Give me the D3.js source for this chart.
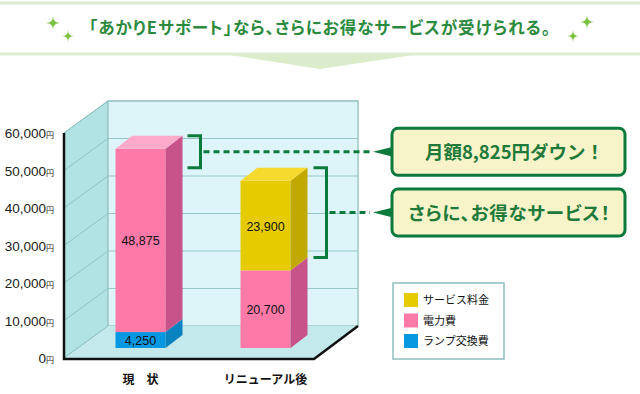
<!DOCTYPE html>
<html>
<head>
<meta charset="utf-8">
<script src="https://cdn.jsdelivr.net/npm/d3@7"></script>
<style>
  body { margin: 0; background: #fff; }
  svg { display: block; font-family: "Noto Sans CJK JP", sans-serif; }
</style>
</head>
<body>
<svg id="chart" width="640" height="394"></svg>
<script>
// data
const categories = ['現\u3000状', 'リニューアル後'];
const lampCost = [4250, 0];
const powerCost = [48875, 20700];
const serviceCost = [0, 23900];
const yTicks = [0, 10000, 20000, 30000, 40000, 50000, 60000];
const legendNames = ['サービス料金', '電力費', 'ランプ交換費'];
const titleText = '「あかりEサポート」なら、さらにお得なサービスが受けられる。';
const calloutTexts = ['月額8,825円ダウン！', 'さらに、お得なサービス！'];

const svg = d3.select('#chart');

// banner at the top
svg.append('path')
  .attr('d', 'M223,54 L420,54 L320,69 Z')
  .attr('fill', '#dbecca');
svg.append('line').attr('x1', 0).attr('x2', 640).attr('y1', 3).attr('y2', 3)
  .attr('stroke', '#dcedcf').attr('stroke-width', 3);
svg.append('line').attr('x1', 0).attr('x2', 640).attr('y1', 54).attr('y2', 54)
  .attr('stroke', '#dcedcf').attr('stroke-width', 3);
svg.append('text')
  .attr('x', 320).attr('y', 34)
  .attr('text-anchor', 'middle')
  .attr('fill', '#2b8a3e')
  .style('font-size', '16.5px')
  .style('font-weight', 'bold')
  .style('font-feature-settings', '"palt"')
  .style('letter-spacing', '1px')
  .text(titleText);

const sparkle = r => `M0,${-r} Q0,0 ${r},0 Q0,0 0,${r} Q0,0 ${-r},0 Q0,0 0,${-r} Z`;
[[53, 23, 7], [68, 36, 6], [573, 36, 6], [587, 22, 7]].forEach(([cx, cy, r]) => {
  svg.append('path')
    .attr('transform', `translate(${cx},${cy})`)
    .attr('d', sparkle(r))
    .attr('fill', '#7cc242');
});

// 3d frame
const left = 64, right = 314;
const D = { dx: 44, dy: -32 };         // depth of the box
const barOff = { dx: 14, dy: -10 };    // bar front position inside the box
const barDepth = { dx: 17, dy: -13 };  // depth of each bar

const y = d3.scaleLinear().domain([0, 60000]).range([358, 133]);
const x = d3.scaleBand().domain(categories).range([left, right])
  .paddingInner(0.6).paddingOuter(0.3);

const yTop = y(60000), yBase = y(0);

// side wall
svg.append('path')
  .attr('d', `M${left},${yTop} L${left + D.dx},${yTop + D.dy} L${left + D.dx},${yBase + D.dy} L${left},${yBase} Z`)
  .attr('fill', '#b2e3e4').attr('stroke', '#8fc2c2').attr('stroke-width', 1);
// back wall
svg.append('rect')
  .attr('x', left + D.dx).attr('y', yTop + D.dy)
  .attr('width', right - left).attr('height', yBase - yTop)
  .attr('fill', '#ddf4f8').attr('stroke', '#9cc8c8').attr('stroke-width', 1.5);
// floor
svg.append('path')
  .attr('d', `M${left},${yBase} L${right},${yBase} L${right + D.dx},${yBase + D.dy} L${left + D.dx},${yBase + D.dy} Z`)
  .attr('fill', '#c4e9ec');

// gridlines
yTicks.filter(v => v > 0).forEach(v => {
  svg.append('line')
    .attr('x1', left + D.dx).attr('x2', right + D.dx)
    .attr('y1', y(v) + D.dy).attr('y2', y(v) + D.dy)
    .attr('stroke', '#98c6c6').attr('stroke-width', 1.2);
  svg.append('line')
    .attr('x1', left).attr('x2', left + D.dx)
    .attr('y1', y(v)).attr('y2', y(v) + D.dy)
    .attr('stroke', '#8fc2c2').attr('stroke-width', 1);
});
svg.append('line')
  .attr('x1', left).attr('x2', left + D.dx)
  .attr('y1', yBase).attr('y2', yBase + D.dy)
  .attr('stroke', '#8fc2c2').attr('stroke-width', 1);

// front axis and floor edges
svg.append('path')
  .attr('d', `M${left},${yTop} L${left},${yBase + 1} L${right},${yBase + 1} L${right + D.dx},${yBase + D.dy}`)
  .attr('fill', 'none').attr('stroke', '#111').attr('stroke-width', 2.5);

// y tick labels
const fmt = d3.format(',');
yTicks.forEach(v => {
  const t = svg.append('text')
    .attr('x', 54).attr('y', y(v) + 5)
    .attr('text-anchor', 'end')
    .attr('fill', '#222')
    .style('font-family', '"Liberation Sans", "Noto Sans CJK JP", sans-serif')
    .style('font-size', '13.5px');
  t.append('tspan').text(fmt(v));
  t.append('tspan').style('font-size', '8px').style('font-family', '"Noto Sans CJK JP", sans-serif').text('円');
});

// stacked bars
const rows = categories.map((c, i) => ({ cat: c, lamp: lampCost[i], power: powerCost[i], service: serviceCost[i] }));
const keys = ['lamp', 'power', 'service'];
const colors = {
  lamp: { front: '#0798e2', side: '#0b82c0', top: '#3fb2ec' },
  power: { front: '#fd7aa8', side: '#c75388', top: '#fdaacb' },
  service: { front: '#e6cb00', side: '#c2a900', top: '#f7da2e' }
};
const stacked = d3.stack().keys(keys)(rows);
const w = x.bandwidth();

rows.forEach((r, i) => {
  const x0 = x(r.cat) + barOff.dx;
  const segs = stacked.map(s => ({ key: s.key, v0: s[i][0], v1: s[i][1] })).filter(s => s.v1 > s.v0);
  segs.forEach((s, j) => {
    const yt = y(s.v1) + barOff.dy, yb = y(s.v0) + barOff.dy;
    const c = colors[s.key];
    svg.append('rect')
      .attr('x', x0).attr('y', yt).attr('width', w).attr('height', yb - yt)
      .attr('fill', c.front);
    svg.append('path')
      .attr('d', `M${x0 + w},${yt} L${x0 + w + barDepth.dx},${yt + barDepth.dy} L${x0 + w + barDepth.dx},${yb + barDepth.dy} L${x0 + w},${yb} Z`)
      .attr('fill', c.side);
    if (j === segs.length - 1) {
      svg.append('path')
        .attr('d', `M${x0},${yt} L${x0 + barDepth.dx},${yt + barDepth.dy} L${x0 + w + barDepth.dx},${yt + barDepth.dy} L${x0 + w},${yt} Z`)
        .attr('fill', c.top);
    }
    svg.append('text')
      .attr('x', x0 + w / 2).attr('y', (yt + yb) / 2 + 5)
      .attr('text-anchor', 'middle')
      .attr('fill', '#111')
      .style('font-family', '"Liberation Sans", sans-serif')
      .style('font-size', '12.5px')
      .text(fmt(s.v1 - s.v0));
  });
  // category label
  svg.append('text')
    .attr('x', x0 + w / 2).attr('y', 384)
    .attr('text-anchor', 'middle')
    .attr('fill', '#111')
    .style('font-size', '12px')
    .style('font-weight', 'bold')
    .text(r.cat);
});

// callouts
const totals = rows.map(r => r.lamp + r.power + r.service);
const green = '#0b7a3c';
const backRight = i => x(categories[i]) + barOff.dx + w + barDepth.dx;
const brackets = [
  { x: backRight(0) + 5, y0: y(totals[0]) + barOff.dy + barDepth.dy, y1: y(totals[1]) + barOff.dy + barDepth.dy },
  { x: backRight(1) + 6, y0: y(totals[1]) + barOff.dy + barDepth.dy, y1: y(rows[1].power) + barOff.dy + barDepth.dy }
];
const boxX = 392, boxW = 233, boxH = 47;

brackets.forEach((b, i) => {
  const bw = 13, mid = (b.y0 + b.y1) / 2;
  svg.append('path')
    .attr('d', `M${b.x},${b.y0} L${b.x + bw},${b.y0} L${b.x + bw},${b.y1} L${b.x},${b.y1}`)
    .attr('fill', 'none').attr('stroke', green).attr('stroke-width', 3);
  svg.append('line')
    .attr('x1', b.x + bw + 3).attr('x2', boxX - 22)
    .attr('y1', mid).attr('y2', mid)
    .attr('stroke', green).attr('stroke-width', 3)
    .attr('stroke-dasharray', '6,4');
  svg.append('path')
    .attr('d', `M${boxX - 19},${mid} L${boxX + 1},${mid - 5} L${boxX + 1},${mid + 5} Z`)
    .attr('fill', green);
  svg.append('rect')
    .attr('x', boxX).attr('y', mid - boxH / 2)
    .attr('width', boxW).attr('height', boxH)
    .attr('rx', 6)
    .attr('fill', '#f6f4c8').attr('stroke', green).attr('stroke-width', 3);
  svg.append('text')
    .attr('x', i === 0 ? boxX + boxW / 2 + 6 : boxX + boxW / 2 + 1).attr('y', mid + 7)
    .attr('text-anchor', 'middle')
    .attr('fill', '#1f7a3a')
    .style('font-size', '18.5px')
    .style('font-weight', 'bold')
    .style('font-feature-settings', i === 1 ? '"palt"' : 'normal')
    .style('letter-spacing', i === 1 ? '0.8px' : '0px')
    .text(calloutTexts[i]);
});

// legend
const legend = svg.append('g');
legend.append('rect')
  .attr('x', 393).attr('y', 283).attr('width', 111).attr('height', 76)
  .attr('fill', '#fff').attr('stroke', '#8fbfbf').attr('stroke-width', 1.5);
const legendKeys = ['service', 'power', 'lamp'];
legendNames.forEach((name, i) => {
  const ly = 300 + i * 20.5;
  legend.append('rect')
    .attr('x', 404).attr('y', ly - 7).attr('width', 14).attr('height', 14)
    .attr('fill', colors[legendKeys[i]].front);
  legend.append('text')
    .attr('x', 423).attr('y', ly + 4)
    .attr('fill', '#111')
    .style('font-size', '11px')
    .text(name);
});
</script>
</body>
</html>
